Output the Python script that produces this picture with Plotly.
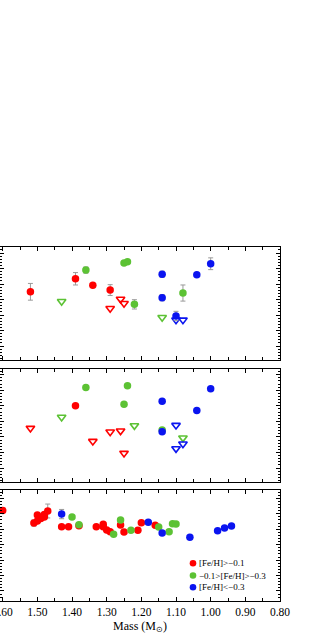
import plotly.graph_objects as go
from plotly.subplots import make_subplots

RED = "#ff0000"
GREEN = "#5cc234"
BLUE = "#0a14f0"
ERR = "#9a9a9a"

# ---------------- Top panel ----------------
p1_red_mass = [1.52, 1.39, 1.34, 1.29]
p1_red_val = [3.50, 4.34, 3.92, 3.61]
p1_red_err = [0.54, 0.40, 0.0, 0.35]
p1_red_lim_mass = [1.29, 1.26, 1.25]
p1_red_lim_val = [2.43, 3.03, 2.75]
p1_green_mass = [1.36, 1.25, 1.24, 1.22, 1.08]
p1_green_val = [4.90, 5.35, 5.44, 2.69, 3.42]
p1_green_err = [0.2, 0.0, 0.0, 0.3, 0.52]
p1_green_lim_mass = [1.43, 1.14]
p1_green_lim_val = [2.88, 1.85]
p1_blue_mass = [1.14, 1.14, 1.04, 1.00, 1.10]
p1_blue_val = [4.63, 3.12, 4.60, 5.31, 1.94]
p1_blue_err = [0.2, 0.2, 0.0, 0.38, 0.3]
p1_blue_lim_mass = [1.10, 1.08]
p1_blue_lim_val = [1.68, 1.68]

# ---------------- Middle panel ----------------
p2_red_mass = [1.39]
p2_red_val = [4.00]
p2_red_lim_mass = [1.52, 1.34, 1.29, 1.26, 1.25]
p2_red_lim_val = [2.56, 1.72, 2.32, 2.39, 0.95]
p2_green_mass = [1.36, 1.24, 1.25, 1.14]
p2_green_val = [5.18, 5.29, 4.11, 2.45]
p2_green_lim_mass = [1.43, 1.22, 1.08]
p2_green_lim_val = [3.27, 2.73, 1.94]
p2_blue_mass = [1.14, 1.14, 1.04, 1.00]
p2_blue_val = [4.30, 2.34, 3.70, 5.10]
p2_blue_lim_mass = [1.10, 1.10, 1.08]
p2_blue_lim_val = [2.75, 1.25, 1.55]

# ---------------- Bottom panel ----------------
p3_red_mass = [1.60, 1.51, 1.50, 1.50, 1.49, 1.48, 1.48, 1.47, 1.43, 1.41, 1.38,
               1.33, 1.31, 1.31, 1.30, 1.29, 1.26, 1.25, 1.21, 1.20, 1.16]
p3_red_val = [5.22, 4.40, 4.92, 4.53, 4.69, 4.79, 4.95, 5.18, 4.16, 4.16, 4.23,
              4.16, 4.32, 4.16, 3.95, 3.84, 4.27, 3.82, 3.93, 4.42, 4.25]
p3_red_err = [0, 0.2, 0, 0, 0, 0, 0, 0.45, 0, 0, 0,
              0, 0, 0, 0, 0, 0, 0, 0, 0, 0]
p3_green_mass = [1.40, 1.38, 1.28, 1.26, 1.23, 1.15, 1.12, 1.11, 1.10]
p3_green_val = [4.79, 4.29, 3.67, 4.60, 3.93, 4.14, 3.84, 4.36, 4.34]
p3_blue_mass = [1.43, 1.18, 1.14, 1.06, 0.98, 0.96, 0.94]
p3_blue_val = [4.98, 4.45, 3.75, 3.48, 3.90, 4.08, 4.21]
p3_blue_err = [0.3, 0, 0, 0, 0, 0, 0.15]

legend_names = ["[Fe/H]>\u22120.1", "\u22120.1>[Fe/H]>\u22120.3", "[Fe/H]<\u22120.3"]
legend_colors = [RED, GREEN, BLUE]

fig = make_subplots(rows=3, cols=1, shared_xaxes=True)


def filled(x, y, color, row, err=None, name=None):
    kw = {}
    if err is not None:
        kw["error_y"] = dict(type="data", array=err, visible=True, color=ERR,
                             thickness=1, width=2.5)
    fig.add_trace(go.Scatter(x=x, y=y, mode="markers", name=name, showlegend=False,
                             marker=dict(symbol="circle", size=7.5, color=color,
                                         line=dict(width=0)), **kw),
                  row=row, col=1)


def limit(x, y, color, row):
    fig.add_trace(go.Scatter(x=x, y=y, mode="markers", showlegend=False,
                             marker=dict(symbol="triangle-down-open", size=7.5,
                                         color=color, line=dict(width=1.6, color=color))),
                  row=row, col=1)


# top
limit(p1_red_lim_mass, p1_red_lim_val, RED, 1)
limit(p1_green_lim_mass, p1_green_lim_val, GREEN, 1)
limit(p1_blue_lim_mass, p1_blue_lim_val, BLUE, 1)
filled(p1_red_mass, p1_red_val, RED, 1, p1_red_err)
filled(p1_green_mass, p1_green_val, GREEN, 1, p1_green_err)
filled(p1_blue_mass, p1_blue_val, BLUE, 1, p1_blue_err)
# middle
limit(p2_red_lim_mass, p2_red_lim_val, RED, 2)
limit(p2_green_lim_mass, p2_green_lim_val, GREEN, 2)
limit(p2_blue_lim_mass, p2_blue_lim_val, BLUE, 2)
filled(p2_red_mass, p2_red_val, RED, 2)
filled(p2_green_mass, p2_green_val, GREEN, 2)
filled(p2_blue_mass, p2_blue_val, BLUE, 2)
# bottom
filled(p3_red_mass, p3_red_val, RED, 3, p3_red_err, legend_names[0])
filled(p3_green_mass, p3_green_val, GREEN, 3, None, legend_names[1])
filled(p3_blue_mass, p3_blue_val, BLUE, 3, p3_blue_err, legend_names[2])

FONT = "Liberation Serif, Times New Roman, serif"

# geometry (pixels): plot spans x 0..280, panels at y 247-360, 369-482, 490-601
W, H = 325, 638
PW = 280
top, bottom = 247, 601
span = bottom - top


def dom(y0, y1):
    return [(bottom - y1) / span, (bottom - y0) / span]


domains = [dom(247, 360), dom(369, 482), dom(490, 601)]
yranges = [[-0.9, 6.39], [-0.9, 6.37], [-0.65, 6.54]]

for i in range(3):
    ax = "yaxis" if i == 0 else f"yaxis{i+1}"
    fig.layout[ax].update(
        domain=domains[i], range=yranges[i], showgrid=False, zeroline=False,
        showline=True, linecolor="black", linewidth=1.3, mirror="ticks",
        ticks="inside", ticklen=4, tickcolor="black", dtick=1, tick0=0,
        minor=dict(ticks="inside", ticklen=2, dtick=0.2, tickcolor="black"),
        showticklabels=False, automargin=False)
    xa = "xaxis" if i == 0 else f"xaxis{i+1}"
    fig.layout[xa].update(
        range=[1.6078, 0.80], showgrid=False, zeroline=False,
        showline=True, linecolor="black", linewidth=1.3, mirror="ticks",
        ticks="inside", ticklen=4, tickcolor="black", dtick=0.1, tick0=0,
        tickformat=".2f",
        minor=dict(ticks="inside", ticklen=3, dtick=0.05, tickcolor="black"),
        automargin=False, ticklabeloverflow="allow",
        tickfont=dict(family=FONT, size=11.5, color="black"))

fig.layout.xaxis3.update(
    showticklabels=True,
    title=dict(text="Mass (M<sub>\u2299</sub>)", standoff=4,
               font=dict(family=FONT, size=12, color="black")))

# legend drawn inside the bottom panel (compact rows as in the original)
leg_x_marker = 193 / PW
leg_x_text = 197 / PW
leg_rows_px = [563.3, 575.5, 587.3]
for name, color, ypx in zip(legend_names, legend_colors, leg_rows_px):
    yp = (bottom - ypx) / span
    fig.add_shape(type="circle", xref="paper", yref="paper",
                  xsizemode="pixel", ysizemode="pixel",
                  xanchor=leg_x_marker, yanchor=yp,
                  x0=-3.3, x1=3.3, y0=-3.3, y1=3.3,
                  fillcolor=color, line=dict(width=0))
    fig.add_annotation(x=leg_x_text, y=yp, xref="paper", yref="paper",
                       xanchor="left", yanchor="middle", showarrow=False,
                       text=name, font=dict(family=FONT, size=9, color="black"))

fig.update_layout(
    width=W, height=H,
    margin=dict(l=0, r=W - PW, t=top, b=H - bottom, pad=0),
    paper_bgcolor="white", plot_bgcolor="white",
    showlegend=False,
    font=dict(family=FONT),
)

fig.write_html("out.html", config={"displayModeBar": False},
               post_script="document.body.style.margin='0px';")
